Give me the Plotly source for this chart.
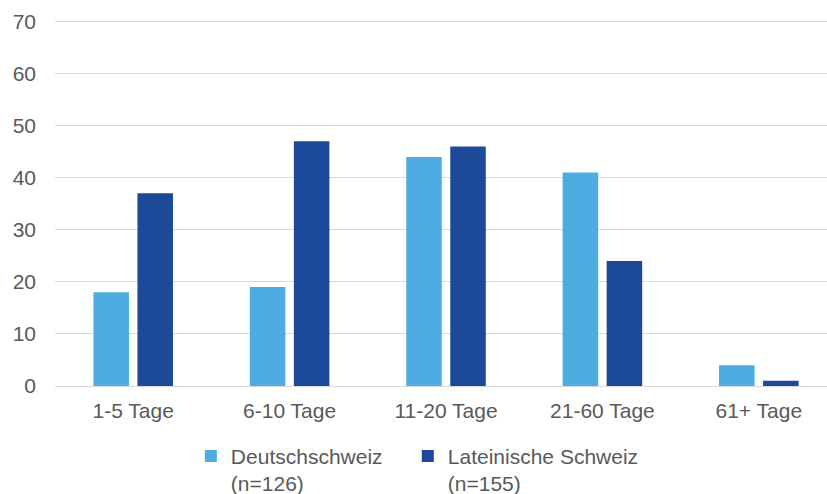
import plotly.graph_objects as go

categories = ["1-5 Tage", "6-10 Tage", "11-20 Tage", "21-60 Tage", "61+ Tage"]
deutschschweiz = [18, 19, 44, 41, 4]
lateinische = [37, 47, 46, 24, 1]
series_names = ["Deutschschweiz<br>(n=126)", "Lateinische Schweiz<br>(n=155)"]
y_ticks = [0, 10, 20, 30, 40, 50, 60, 70]

font_family = "Liberation Sans, Arial, sans-serif"
text_color = "#595959"

fig = go.Figure()
fig.add_trace(go.Bar(x=categories, y=deutschschweiz, name=series_names[0],
                     marker=dict(color="#4DADE0", line=dict(width=0)), legend="legend"))
fig.add_trace(go.Bar(x=categories, y=lateinische, name=series_names[1],
                     marker=dict(color="#1C4A98", line=dict(width=0)), legend="legend2"))

legend_common = dict(orientation="h", xanchor="left", y=-0.136, yanchor="top",
                     valign="top", bgcolor="rgba(0,0,0,0)",
                     font=dict(size=21, color=text_color, family=font_family))

fig.update_layout(
    width=827, height=494,
    margin=dict(l=55, r=0, t=20, b=108, autoexpand=False),
    paper_bgcolor="white", plot_bgcolor="white",
    barmode="group", bargap=0.437, bargroupgap=0.193,
    font=dict(family=font_family, size=21, color=text_color),
    legend=dict(x=0.176, **legend_common),
    legend2=dict(x=0.457, **legend_common),
    showlegend=True,
)
fig.update_yaxes(range=[0, 70.3], tickvals=y_ticks, showgrid=True, gridcolor="#D9D9D9",
                 gridwidth=1.3, zeroline=True, zerolinecolor="#D9D9D9", zerolinewidth=1.3,
                 showline=False, ticks="", ticklabelstandoff=18, automargin=False)
fig.update_xaxes(range=[-0.5, 4.436], showline=False, ticks="", ticklabelstandoff=10,
                 automargin=False)

fig.write_html("out.html", config={"displayModeBar": False},
               post_script="document.body.style.margin='0px';")
